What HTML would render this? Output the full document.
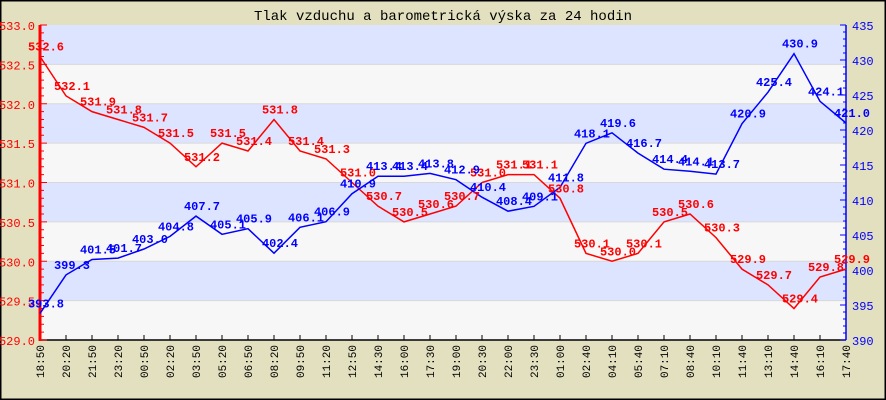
<!DOCTYPE html>
<html><head><meta charset="utf-8"><style>
body{margin:0;background:#e3e0bf}
svg{display:block;font-family:"Liberation Mono",monospace}
</style></head><body>
<svg id="c" width="886" height="400">
<rect x="0.5" y="0.5" width="885" height="399" fill="#e3e0bf" stroke="#000" stroke-width="2"/>
<text x="443" y="20" text-anchor="middle" font-size="14" fill="#000">Tlak vzduchu a barometrická výska za 24 hodin</text>
<g id="g"></g>
</svg>
<script>
const times=["18:50","20:20","21:50","23:20","00:50","02:20","03:50","05:20","06:50","08:20","09:50","11:20","12:50","14:30","16:00","17:30","19:00","20:30","22:00","23:30","01:00","02:40","04:10","05:40","07:10","08:40","10:10","11:40","13:10","14:40","16:10","17:40"];
const pressure=[532.6,532.1,531.9,531.8,531.7,531.5,531.2,531.5,531.4,531.8,531.4,531.3,531.0,530.7,530.5,530.6,530.7,531.0,531.1,531.1,530.8,530.1,530.0,530.1,530.5,530.6,530.3,529.9,529.7,529.4,529.8,529.9];
const height=[393.8,399.3,401.5,401.7,403.0,404.8,407.7,405.1,405.9,402.4,406.1,406.9,410.9,413.4,413.4,413.8,412.9,410.4,408.4,409.1,411.8,418.1,419.6,416.7,414.4,414.1,413.7,420.9,425.4,430.9,424.1,421.0];
const leftTicks=["529.0","529.5","530.0","530.5","531.0","531.5","532.0","532.5","533.0"];
const rightTicks=[390,395,400,405,410,415,420,425,430,435];
const X0=40,X1=846,Y0=25,Y1=340;
const x=i=>X0+(X1-X0)*i/(times.length-1);
const yL=v=>Y1-(v-529)/4*(Y1-Y0);
const yR=v=>Y1-(v-390)/45*(Y1-Y0);
const g=document.getElementById('g');const NS="http://www.w3.org/2000/svg";
function el(t,a,txt){const e=document.createElementNS(NS,t);for(const k in a)e.setAttribute(k,a[k]);if(txt!==undefined)e.textContent=txt;g.appendChild(e);return e;}
for(let i=0;i<8;i++){const v=529+i*0.5;
const r=el('rect',{x:X0,y:yL(v+0.5),width:X1-X0,height:yL(v)-yL(v+0.5),fill:i%2?'#dde4ff':'#f7f7f7'});

}
for(let i=1;i<8;i++){const l=el('line',{x1:X0,x2:X1,y1:yL(529+i*0.5),y2:yL(529+i*0.5),stroke:'#d8d8d8','stroke-width':1});

}
// x axis
const xa=el('line',{x1:X0,x2:X1,y1:Y1,y2:Y1,stroke:'#000','stroke-width':1.5});


times.forEach((t,i)=>{el('line',{x1:x(i),x2:x(i),y1:Y1,y2:Y1-5,stroke:'#000'});
const tx=el('text',{x:0,y:0,'font-size':11,fill:'#000','text-anchor':'end',transform:`translate(${x(i)+4},${Y1+5}) rotate(-90)`},t);

});
// left axis
const la=el('line',{x1:X0,x2:X0,y1:Y0,y2:Y1+1,stroke:'#f00','stroke-width':3});


for(let k=0;k<=40;k++){const yy=Y1-k*(Y1-Y0)/40;el('line',{x1:X0,x2:X0+(k%5?4:7),y1:yy,y2:yy,stroke:'#f00'});}
leftTicks.forEach(s=>{const t=el('text',{x:35,y:yL(+s)+5,'font-size':12,fill:'#f00','text-anchor':'end'},s);

});
// right axis
const ra=el('line',{x1:X1,x2:X1,y1:Y0,y2:Y1,stroke:'#00f','stroke-width':1.5});


for(let v=390;v<=435;v++){el('line',{x1:X1,x2:X1-(v%5?3:6),y1:yR(v),y2:yR(v),stroke:'#00f'});}
rightTicks.forEach(v=>{const t=el('text',{x:852,y:yR(v)+5,'font-size':12,fill:'#00f'},v);

});
// series
const pp=el('polyline',{points:pressure.map((v,i)=>x(i)+','+yL(v)).join(' '),fill:'none',stroke:'#f00','stroke-width':1.5});


const hp=el('polyline',{points:height.map((v,i)=>x(i)+','+yR(v)).join(' '),fill:'none',stroke:'#00f','stroke-width':1.5});


pressure.forEach((v,i)=>{const t=el('text',{x:x(i)+6,y:yL(v)-6,'font-size':12,'font-weight':'bold',fill:'#f00','text-anchor':'middle'},v.toFixed(1));

});
height.forEach((v,i)=>{const t=el('text',{x:x(i)+6,y:yR(v)-6,'font-size':12,'font-weight':'bold',fill:'#00f','text-anchor':'middle'},v.toFixed(1));

});
</script>
</body></html>
